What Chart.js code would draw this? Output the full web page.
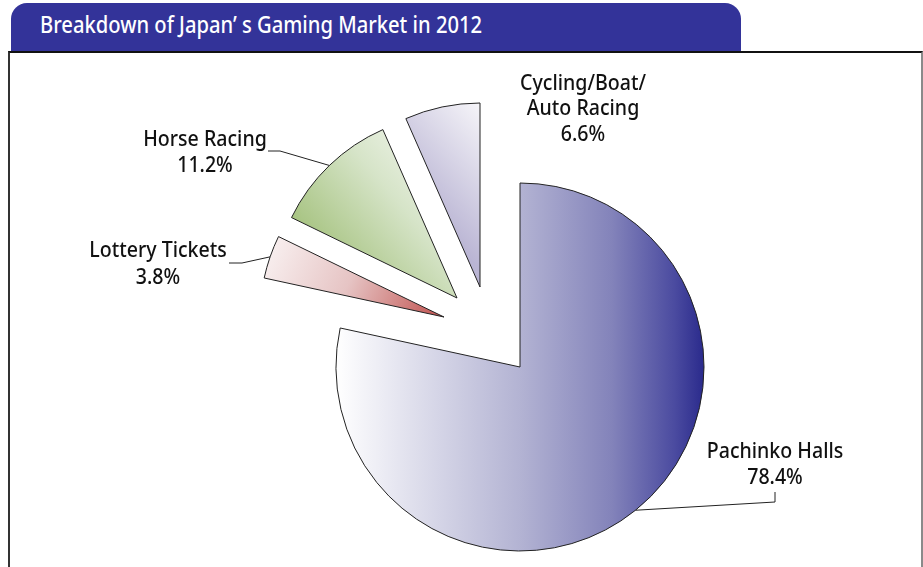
<!DOCTYPE html>
<html>
<head>
<meta charset="utf-8">
<title>Breakdown of Japan's Gaming Market in 2012</title>
<script src="https://cdn.jsdelivr.net/npm/chart.js@4.4.1/dist/chart.umd.min.js"></script>
<style>
  html, body { margin: 0; padding: 0; background: #fff; }
  #wrap { position: relative; width: 923px; height: 567px; overflow: hidden; }
  #tab {
    position: absolute; left: 11px; top: 3px; width: 730px; height: 49px;
    background: #333399; border-radius: 16px 16px 0 0;
  }
  #title {
    position: absolute; left: 40px; top: 13px; color: #fff;
    font: 500 23px/23px "Noto Sans", sans-serif; white-space: nowrap;
    transform-origin: 0 0;
  }
  #frame {
    position: absolute; left: 8px; top: 51px; width: 911px; height: 540px;
    border-top: 2px solid #111; border-left: 2px solid #333; border-right: 2px solid #8a8a8a;
  }
  #salesChart { position: absolute; left: 0; top: 0; }
</style>
</head>
<body>
<div id="wrap">
  <div id="tab"></div>
  <div id="title">Breakdown of Japan’ s Gaming Market in 2012</div>
  <div id="frame"></div>
  <canvas id="salesChart" width="923" height="567"></canvas>
</div>
<script>
// chart data
const categories = ['Pachinko Halls', 'Lottery Tickets', 'Horse Racing', 'Cycling/Boat/Auto Racing'];
const shares = [78.4, 3.8, 11.2, 6.6];
const labelLines = [['Pachinko Halls'], ['Lottery Tickets'], ['Horse Racing'], ['Cycling/Boat/', 'Auto Racing']];

// styling
const pieRadius = 184;
const explode = [[0, 0], [-76, -50], [-63, -69], [-40, -80]];   // pixel shift of pulled-out slices
const labelFont = '500 22px "Noto Sans", sans-serif';
const labelSqueeze = 0.89;   // the original uses a narrow gothic face

// fit the title text to the width of the original
const titleEl = document.getElementById('title');
titleEl.style.transform = 'scaleX(' + (442 / titleEl.offsetWidth) + ')';

// gradients, given relative to the pie centre in units of the radius
const gradients = [
    { from: [-1, 0], to: [1, 0], stops: [[0, '#ffffff'], [0.5, '#b3b3d3'], [0.75, '#8383ba'], [0.92, '#4b4ba0'], [1, '#2a2a8c']] },
    { from: [-1, -0.45], to: [0, 0], stops: [[0, '#fbf6f6'], [0.5, '#e6c4c4'], [1, '#c0504d']] },
    { from: [-0.9, -0.35], to: [-0.2, -0.95], stops: [[0, '#a2c07a'], [0.6, '#d6e4c8'], [1, '#f1f5ec']] },
    { from: [-0.45, -0.6], to: [0, -1], stops: [[0, '#bab5d4'], [1, '#f6f5f9']] }
];

function sliceFill(context) {
    const chart = context.chart;
    const area = chart.chartArea;
    const g = gradients[context.dataIndex];
    if (!area) return g.stops[g.stops.length - 1][1];
    const cx = (area.left + area.right) / 2;
    const cy = (area.top + area.bottom) / 2;
    const grad = chart.ctx.createLinearGradient(
        cx + g.from[0] * pieRadius, cy + g.from[1] * pieRadius,
        cx + g.to[0] * pieRadius, cy + g.to[1] * pieRadius);
    g.stops.forEach(s => grad.addColorStop(s[0], s[1]));
    return grad;
}

// draw each slice with its own pull-out shift
const explodePlugin = {
    id: 'explode',
    beforeDatasetDraw(chart, args) {
        const ctx = chart.ctx;
        args.meta.data.forEach((arc, i) => {
            ctx.save();
            ctx.translate(explode[i][0], explode[i][1]);
            arc.draw(ctx);
            ctx.restore();
        });
        return false;
    }
};

// label text and leader lines; positions relative to pie centre
const labelPos = [
    { x: 255, base: [91, 117], line: [[255, 135], [255, 125]] },
    { x: -362, base: [-110, -83], line: [[-278, -104], [-291, -104]] },
    { x: -315, base: [-221, -195], line: [[-240, -216], [-252, -216]] },
    { x: 63, base: [-277, -252, -226], line: null }
];

const labelPlugin = {
    id: 'sliceLabels',
    afterDatasetsDraw(chart) {
        const ctx = chart.ctx;
        const meta = chart.getDatasetMeta(0);
        ctx.save();
        ctx.font = labelFont;
        ctx.fillStyle = '#111';
        ctx.textAlign = 'center';
        ctx.textBaseline = 'alphabetic';
        ctx.strokeStyle = '#222';
        ctx.lineWidth = 1;
        meta.data.forEach((arc, i) => {
            const p = arc.getProps(['x', 'y', 'startAngle', 'endAngle', 'outerRadius'], true);
            const mid = (p.startAngle + p.endAngle) / 2;
            const pos = labelPos[i];
            const lines = labelLines[i].concat([shares[i].toFixed(1) + '%']);
            lines.forEach((t, k) => {
                ctx.save();
                ctx.translate(p.x + pos.x, p.y + pos.base[k]);
                ctx.scale(labelSqueeze, 1);
                ctx.fillText(t, 0, 0);
                ctx.restore();
            });
            if (pos.line) {
                const sx = p.x + explode[i][0] + Math.cos(mid) * p.outerRadius;
                const sy = p.y + explode[i][1] + Math.sin(mid) * p.outerRadius;
                ctx.beginPath();
                ctx.moveTo(sx, sy);
                pos.line.forEach(q => ctx.lineTo(p.x + q[0], p.y + q[1]));
                ctx.stroke();
            }
        });
        ctx.restore();
    }
};

const ctx = document.getElementById('salesChart').getContext('2d');
new Chart(ctx, {
    type: 'pie',
    data: {
        labels: categories,
        datasets: [{
            data: shares,
            radius: pieRadius,
            backgroundColor: sliceFill,
            borderColor: '#222',
            borderWidth: 1
        }]
    },
    options: {
        responsive: false,
        animation: false,
        layout: { padding: { left: 200, right: 83, top: 183, bottom: 16 } },
        plugins: {
            legend: { display: false },
            tooltip: { enabled: false }
        }
    },
    plugins: [explodePlugin, labelPlugin]
});
</script>
</body>
</html>
